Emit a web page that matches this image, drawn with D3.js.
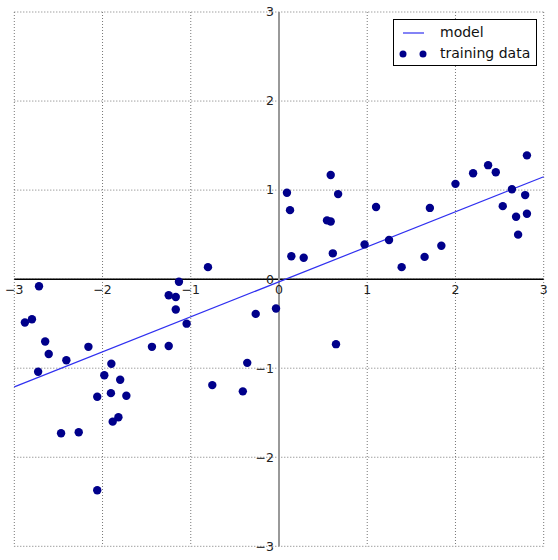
<!DOCTYPE html>
<html lang="en">
<head>
    <meta charset="UTF-8">
    <title>Wave regression</title>
    <script src="https://d3js.org/d3.v7.min.js"></script>
    <style>
        body { margin: 0; background: #fff; }
        text { font-family: "DejaVu Sans", sans-serif; }
    </style>
</head>
<body>
<svg width="558" height="560"></svg>
<script>
    // training data
    const trainX = [0.09, 0.125, 0.586, 0.67, 0.544, 0.586, 0.14, 0.28, 0.61, 1.10,
        0.97, 1.247, 1.39, 1.65, 1.71, 1.84, 2.0, 2.2, 2.37, 2.457,
        2.536, 2.64, 2.687, 2.79, 2.81, 2.71, 2.81, -0.805, -1.134, -2.72,
        -2.88, -2.80, -2.65, -2.61, -2.73, -2.41, -2.16, -1.90, -1.98, -1.80,
        -2.06, -1.905, -1.73, -1.885, -1.82, -2.47, -2.27, -2.06, -1.25, -1.17,
        -1.17, -1.047, -1.44, -1.25, -0.756, -0.41, -0.36, -0.264, -0.034, 0.646];
    const trainY = [0.97, 0.775, 1.17, 0.955, 0.66, 0.648, 0.258, 0.24, 0.29, 0.81,
        0.39, 0.44, 0.135, 0.25, 0.80, 0.375, 1.07, 1.19, 1.28, 1.20,
        0.82, 1.01, 0.70, 0.944, 0.734, 0.50, 1.39, 0.135, -0.03, -0.08,
        -0.487, -0.45, -0.70, -0.84, -1.04, -0.91, -0.76, -0.95, -1.08, -1.13,
        -1.32, -1.28, -1.31, -1.60, -1.55, -1.73, -1.72, -2.37, -0.18, -0.20,
        -0.34, -0.50, -0.76, -0.75, -1.19, -1.26, -0.94, -0.39, -0.33, -0.73];

    // fitted model line (end points)
    const modelX = [-3, 3];
    const modelY = [-1.21, 1.15];

    const ticks = [-3, -2, -1, 0, 1, 2, 3];
    const legendLabels = ["model", "training data"];

    const svg = d3.select("svg");
    const xScale = d3.scaleLinear().domain([-3, 3]).range([14.3, 543.7]);
    const yScale = d3.scaleLinear().domain([-3, 3]).range([546.3, 12]);

    // dotted grid (also forms the outer frame)
    const grid = svg.append("g");
    grid.selectAll("line.gx")
        .data(ticks)
        .enter().append("line")
        .attr("x1", d => xScale(d)).attr("x2", d => xScale(d))
        .attr("y1", yScale(3)).attr("y2", yScale(-3));
    grid.selectAll("line.gy")
        .data(ticks)
        .enter().append("line")
        .attr("y1", d => yScale(d)).attr("y2", d => yScale(d))
        .attr("x1", xScale(-3)).attr("x2", xScale(3));
    grid.selectAll("line")
        .attr("stroke", "#777")
        .attr("stroke-width", 1)
        .attr("stroke-dasharray", "1,2");

    // spines through the origin
    svg.append("line")
        .attr("x1", xScale(-3)).attr("x2", xScale(3))
        .attr("y1", yScale(0)).attr("y2", yScale(0))
        .attr("stroke", "#000").attr("stroke-width", 1.5);
    svg.append("line")
        .attr("x1", xScale(0)).attr("x2", xScale(0))
        .attr("y1", yScale(3)).attr("y2", yScale(-3))
        .attr("stroke", "#999").attr("stroke-width", 2);

    // tick labels
    const fmt = d => d < 0 ? "\u2212" + Math.abs(d) : String(d);
    svg.append("g").selectAll("text")
        .data(ticks)
        .enter().append("text")
        .attr("x", d => xScale(d))
        .attr("y", yScale(0) + 15)
        .attr("text-anchor", "middle")
        .attr("font-size", 12.5)
        .attr("fill", "#222")
        .text(fmt);
    svg.append("g").selectAll("text")
        .data(ticks)
        .enter().append("text")
        .attr("x", xScale(0) - 5)
        .attr("y", d => yScale(d))
        .attr("dy", "0.35em")
        .attr("text-anchor", "end")
        .attr("font-size", 12.5)
        .attr("fill", "#222")
        .text(fmt);

    // model line
    const line = d3.line().x(d => xScale(d[0])).y(d => yScale(d[1]));
    svg.append("path")
        .datum(d3.zip(modelX, modelY))
        .attr("d", line)
        .attr("fill", "none")
        .attr("stroke", "#3030f0")
        .attr("stroke-width", 1.2);

    // training points
    svg.append("g").selectAll("circle")
        .data(d3.zip(trainX, trainY))
        .enter().append("circle")
        .attr("cx", d => xScale(d[0]))
        .attr("cy", d => yScale(d[1]))
        .attr("r", 4.2)
        .attr("fill", "#00008b");

    // legend
    const legend = svg.append("g");
    legend.append("rect")
        .attr("x", 393.5).attr("y", 19.5)
        .attr("width", 143).attr("height", 46)
        .attr("fill", "#fff").attr("stroke", "#000").attr("stroke-width", 1);
    legend.append("line")
        .attr("x1", 403).attr("x2", 424).attr("y1", 33).attr("y2", 33)
        .attr("stroke", "#3030f0").attr("stroke-width", 1.2);
    legend.selectAll("circle")
        .data([403, 423])
        .enter().append("circle")
        .attr("cx", d => d).attr("cy", 54).attr("r", 3.5)
        .attr("fill", "#00008b");
    legend.selectAll("text")
        .data(legendLabels)
        .enter().append("text")
        .attr("x", 440)
        .attr("y", (d, i) => 32 + i * 21)
        .attr("dy", "0.35em")
        .attr("font-size", 14)
        .attr("fill", "#111")
        .text(d => d);
</script>
</body>
</html>
